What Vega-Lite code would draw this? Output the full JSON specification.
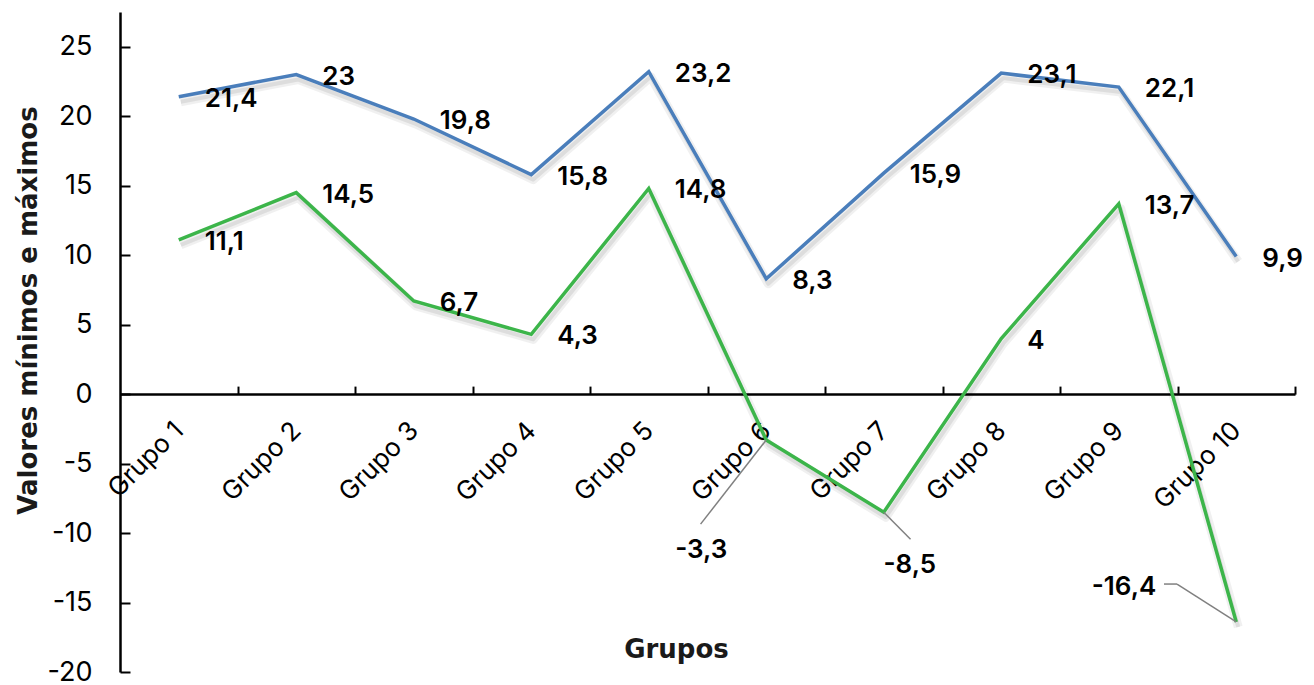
{
  "$schema": "https://vega.github.io/schema/vega-lite/v6.json",
  "width": 1175,
  "height": 660,
  "autosize": "none",
  "padding": {"left": 120, "top": 12, "right": 19, "bottom": 13},
  "background": "white",
  "config": {
    "locale": {"number": {"decimal": ",", "thousands": ".", "grouping": [3], "currency": ["", " €"], "minus": "-"}},
    "view": {"stroke": null},
    "font": "Inter",
    "axis": {"grid": false}
  },
  "datasets": {
    "temperaturas": [
      {"grupo": 1, "serie": "Máximo", "valor": 21.4},
      {"grupo": 2, "serie": "Máximo", "valor": 23},
      {"grupo": 3, "serie": "Máximo", "valor": 19.8},
      {"grupo": 4, "serie": "Máximo", "valor": 15.8},
      {"grupo": 5, "serie": "Máximo", "valor": 23.2},
      {"grupo": 6, "serie": "Máximo", "valor": 8.3},
      {"grupo": 7, "serie": "Máximo", "valor": 15.9},
      {"grupo": 8, "serie": "Máximo", "valor": 23.1},
      {"grupo": 9, "serie": "Máximo", "valor": 22.1},
      {"grupo": 10, "serie": "Máximo", "valor": 9.9},
      {"grupo": 1, "serie": "Mínimo", "valor": 11.1},
      {"grupo": 2, "serie": "Mínimo", "valor": 14.5},
      {"grupo": 3, "serie": "Mínimo", "valor": 6.7},
      {"grupo": 4, "serie": "Mínimo", "valor": 4.3},
      {"grupo": 5, "serie": "Mínimo", "valor": 14.8},
      {"grupo": 6, "serie": "Mínimo", "valor": -3.3},
      {"grupo": 7, "serie": "Mínimo", "valor": -8.5},
      {"grupo": 8, "serie": "Mínimo", "valor": 4},
      {"grupo": 9, "serie": "Mínimo", "valor": 13.7},
      {"grupo": 10, "serie": "Mínimo", "valor": -16.4}
    ]
  },
  "data": {"name": "temperaturas"},
  "encoding": {
    "x": {
      "field": "grupo",
      "type": "quantitative",
      "scale": {"domain": [0.5, 10.5], "nice": false, "zero": false},
      "axis": {
        "values": [1.5, 2.5, 3.5, 4.5, 5.5, 6.5, 7.5, 8.5, 9.5, 10.5],
        "labelExpr": "'Grupo ' + (datum.value - 0.5)",
        "labelOffset": -58.75,
        "labelAngle": -45,
        "labelAlign": "right",
        "labelBaseline": "middle",
        "labelFontSize": 26,
        "labelColor": "#000000",
        "labelPadding": 40,
        "labelFlush": false,
        "labelOverlap": false,
        "labelBound": false,
        "tickSize": -8,
        "tickWidth": 2,
        "tickColor": "#000000",
        "domainWidth": 2.5,
        "domainColor": "#000000",
        "offset": -277.9,
        "title": "Grupos",
        "titleFont": "DejaVu Sans",
        "titleFontSize": 26,
        "titleFontWeight": "bold",
        "titleColor": "#1a1a1a",
        "titleX": 556,
        "titleY": 263,
        "titleAlign": "center",
        "titleBaseline": "alphabetic"
      }
    },
    "y": {
      "field": "valor",
      "type": "quantitative",
      "scale": {"domain": [-20, 27.5], "nice": false, "zero": false},
      "axis": {
        "values": [-20, -15, -10, -5, 0, 5, 10, 15, 20, 25],
        "tickSize": -10,
        "tickWidth": 2,
        "tickColor": "#000000",
        "domainWidth": 2.5,
        "domainColor": "#000000",
        "labelFontSize": 27,
        "labelColor": "#000000",
        "labelPadding": 38,
        "title": "Valores mínimos e máximos",
        "titleFont": "DejaVu Sans",
        "titleFontSize": 26,
        "titleFontWeight": "bold",
        "titleColor": "#1a1a1a",
        "titleX": -92,
        "titleY": 298,
        "titleAngle": -90,
        "titleAlign": "center",
        "titleBaseline": "middle"
      }
    }
  },
  "layer": [
    {
      "mark": {"type": "line", "stroke": "#000000", "opacity": 0.06, "strokeWidth": 9, "strokeJoin": "round"},
      "encoding": {
        "detail": {"field": "serie"},
        "xOffset": {"value": 2},
        "yOffset": {"value": 5}
      }
    },
    {
      "mark": {"type": "line", "stroke": "#000000", "opacity": 0.08, "strokeWidth": 4, "strokeJoin": "round"},
      "encoding": {
        "detail": {"field": "serie"},
        "xOffset": {"value": 2},
        "yOffset": {"value": 5}
      }
    },
    {
      "mark": {"type": "line", "strokeWidth": 3.5, "strokeJoin": "miter"},
      "encoding": {
        "color": {
          "field": "serie",
          "type": "nominal",
          "scale": {"domain": ["Máximo", "Mínimo"], "range": ["#4a7ebb", "#3cb54a"]},
          "legend": null
        }
      }
    },
    {
      "transform": [{"filter": "!(datum.serie == 'Mínimo' && (datum.grupo == 6 || datum.grupo == 7 || datum.grupo == 10))"}],
      "mark": {"type": "text", "align": "left", "baseline": "middle", "dx": 26, "dy": 2, "fontSize": 26, "fontWeight": 600, "color": "#000000"},
      "encoding": {"text": {"field": "valor", "type": "quantitative", "format": ".1~f"}}
    },
    {
      "transform": [{"filter": "datum.serie == 'Mínimo' && datum.grupo == 6"}],
      "layer": [
        {
          "mark": {"type": "rule", "color": "#808080", "strokeWidth": 1.5},
          "encoding": {"x2": {"datum": 5.441}, "y2": {"datum": -9.36}}
        },
        {
          "mark": {"type": "text", "align": "center", "baseline": "middle", "dx": -65, "dy": 110, "fontSize": 26, "fontWeight": 600, "color": "#000000"},
          "encoding": {"text": {"field": "valor", "type": "quantitative", "format": ".1~f"}}
        }
      ]
    },
    {
      "transform": [{"filter": "datum.serie == 'Mínimo' && datum.grupo == 7"}],
      "layer": [
        {
          "mark": {"type": "rule", "color": "#808080", "strokeWidth": 1.5},
          "encoding": {"x2": {"datum": 7.228}, "y2": {"datum": -10.44}}
        },
        {
          "mark": {"type": "text", "align": "center", "baseline": "middle", "dx": 26, "dy": 53, "fontSize": 26, "fontWeight": 600, "color": "#000000"},
          "encoding": {"text": {"field": "valor", "type": "quantitative", "format": ".1~f"}}
        }
      ]
    },
    {
      "transform": [{"filter": "datum.serie == 'Mínimo' && datum.grupo == 10"}],
      "layer": [
        {
          "mark": {"type": "rule", "color": "#808080", "strokeWidth": 1.5},
          "encoding": {"x2": {"datum": 9.496}, "y2": {"datum": -13.67}}
        },
        {
          "mark": {"type": "rule", "color": "#808080", "strokeWidth": 1.5},
          "encoding": {"x": {"datum": 9.496}, "y": {"datum": -13.67}, "x2": {"datum": 9.385}, "y2": {"datum": -13.67}}
        },
        {
          "mark": {"type": "text", "align": "right", "baseline": "middle", "dx": -80, "dy": -35, "fontSize": 26, "fontWeight": 600, "color": "#000000"},
          "encoding": {"text": {"field": "valor", "type": "quantitative", "format": ".1~f"}}
        }
      ]
    }
  ]
}
